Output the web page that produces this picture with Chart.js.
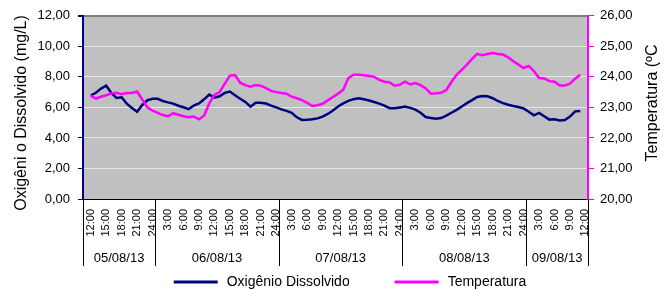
<!DOCTYPE html>
<html>
<head>
<meta charset="utf-8">
<script src="https://cdn.jsdelivr.net/npm/chart.js@4.4.0/dist/chart.umd.min.js"></script>
<style>
  html, body { margin: 0; padding: 0; background: #fff; }
  #wrap { width: 672px; height: 291px; }
</style>
</head>
<body>
<div id="wrap"><canvas id="chart"></canvas></div>
<script>
// hourly readings, 05/08/13 12:00 onwards
const oxygen = [6.78,6.96,7.23,7.42,6.95,6.62,6.66,6.24,5.96,5.72,
  6.16,6.47,6.57,6.56,6.42,6.33,6.25,6.11,6.01,5.89,
  6.12,6.26,6.53,6.84,6.64,6.73,6.95,7.04,6.79,6.57,
  6.36,6.05,6.30,6.31,6.25,6.12,6.00,5.87,5.77,5.64,
  5.35,5.18,5.19,5.23,5.28,5.40,5.57,5.80,6.06,6.26,
  6.43,6.54,6.60,6.53,6.45,6.35,6.25,6.12,5.95,5.94,
  6.00,6.06,5.97,5.85,5.65,5.37,5.31,5.25,5.30,5.46,
  5.65,5.84,6.06,6.28,6.48,6.68,6.75,6.73,6.60,6.42,
  6.28,6.17,6.09,6.03,5.93,5.72,5.48,5.64,5.42,5.20,
  5.22,5.15,5.17,5.40,5.74,5.76];
const temperature = [23.38,23.29,23.35,23.40,23.46,23.48,23.43,23.47,23.47,23.52,
  23.26,23.00,22.89,22.82,22.75,22.71,22.81,22.76,22.71,22.68,
  22.70,22.61,22.73,23.13,23.41,23.50,23.77,24.04,24.06,23.81,
  23.73,23.68,23.73,23.71,23.63,23.54,23.50,23.47,23.45,23.35,
  23.30,23.24,23.15,23.05,23.07,23.12,23.23,23.34,23.45,23.58,
  23.96,24.07,24.07,24.05,24.03,24.00,23.90,23.84,23.82,23.71,
  23.74,23.84,23.75,23.80,23.73,23.62,23.45,23.46,23.48,23.57,
  23.83,24.07,24.23,24.40,24.59,24.75,24.71,24.75,24.78,24.75,
  24.73,24.64,24.51,24.40,24.29,24.36,24.19,23.96,23.95,23.86,
  23.84,23.72,23.72,23.78,23.94,24.07];
const hours = oxygen.map((v, i) => i);

const tickHours = [0,3,6,9,12,15,18,21,24,27,30,33,36,39,42,45,48,51,54,57,60,63,66,69,72,75,78,81,84,87,90,93,96];
const tickLabels = ['12:00','15:00','18:00','21:00','24:00','3:00','6:00','9:00',
  '12:00','15:00','18:00','21:00','24:00','3:00','6:00','9:00',
  '12:00','15:00','18:00','21:00','24:00','3:00','6:00','9:00',
  '12:00','15:00','18:00','21:00','24:00','3:00','6:00','9:00','12:00'];
const days = ['05/08/13','06/08/13','07/08/13','08/08/13','09/08/13'];
const dayBounds = [-1.5, 12.5, 36.5, 60.5, 84.5, 96.5];

const FONT = "'Liberation Sans', Arial, sans-serif";
const comma = v => Number(v).toFixed(2).replace('.', ',');

const extras = {
  id: 'extras',
  beforeDraw(chart) {
    const { ctx, chartArea: a } = chart;
    ctx.save();
    ctx.fillStyle = '#C0C0C0';
    ctx.fillRect(a.left, a.top, a.right - a.left, a.bottom - a.top);
    ctx.restore();
  },
  afterDraw(chart) {
    const { ctx, chartArea: a } = chart;
    const xs = chart.scales.x;
    ctx.save();
    // date groups under the hour labels
    ctx.strokeStyle = '#000';
    ctx.lineWidth = 1;
    dayBounds.forEach(b => {
      const px = Math.round(xs.getPixelForValue(b)) + 0.5;
      ctx.beginPath();
      ctx.moveTo(px, a.bottom);
      ctx.lineTo(px, 266);
      ctx.stroke();
    });
    ctx.fillStyle = '#000';
    ctx.font = '13px ' + FONT;
    ctx.textAlign = 'center';
    ctx.textBaseline = 'middle';
    days.forEach((d, i) => {
      const cx = (xs.getPixelForValue(dayBounds[i]) + xs.getPixelForValue(dayBounds[i + 1])) / 2;
      ctx.fillText(d, cx, 258);
    });

    // axis titles, both read bottom-to-top
    ctx.font = '16px ' + FONT;
    ctx.save();
    ctx.translate(22, 113);
    ctx.rotate(-Math.PI / 2);
    ctx.fillText('Oxigêni o Dissolvido (mg/L)', 0, 0);
    ctx.restore();
    ctx.save();
    ctx.translate(653, 103);
    ctx.rotate(-Math.PI / 2);
    ctx.fillText('Temperatura (ºC', 0, 0);
    ctx.restore();

    // legend
    ctx.font = '14px ' + FONT;
    ctx.textAlign = 'left';
    const items = chart.data.datasets;
    const lineLen = 44, gap = 9, between = 45;
    const widths = items.map(d => lineLen + gap + ctx.measureText(d.label).width);
    const total = widths.reduce((s, w) => s + w, 0) + between * (items.length - 1);
    let x = 350 - total / 2;
    const y = 282;
    items.forEach((d, i) => {
      ctx.strokeStyle = d.borderColor;
      ctx.lineWidth = 3;
      ctx.beginPath();
      ctx.moveTo(x, y);
      ctx.lineTo(x + lineLen, y);
      ctx.stroke();
      ctx.fillStyle = '#000';
      ctx.fillText(d.label, x + lineLen + gap, y);
      x += widths[i] + between;
    });
    ctx.restore();
  }
};

new Chart(document.getElementById('chart'), {
  type: 'line',
  data: {
    datasets: [
      {
        label: 'Oxigênio Dissolvido',
        data: hours.map((h, i) => ({ x: h, y: oxygen[i] })),
        borderColor: '#000080',
        borderWidth: 2.5,
        pointRadius: 0,
        yAxisID: 'y',
        order: 2
      },
      {
        label: 'Temperatura',
        data: hours.map((h, i) => ({ x: h, y: temperature[i] })),
        borderColor: '#FF00FF',
        borderWidth: 2.5,
        pointRadius: 0,
        yAxisID: 'y2',
        order: 1
      }
    ]
  },
  options: {
    responsive: true,
    maintainAspectRatio: false,
    animation: false,
    layout: { padding: { top: 15, left: 0, right: 0, bottom: 0 } },
    plugins: {
      legend: { display: false },
      tooltip: { enabled: false }
    },
    scales: {
      x: {
        type: 'linear',
        min: -1.5,
        max: 96.5,
        afterBuildTicks: s => { s.ticks = tickHours.map(v => ({ value: v })); },
        afterFit: s => { s.height = 92; },
        grid: { display: false },
        border: { color: '#000', width: 1 },
        ticks: {
          autoSkip: false,
          minRotation: 90,
          maxRotation: 90,
          padding: 2,
          color: '#000',
          font: { family: FONT, size: 11 },
          callback: v => tickLabels[tickHours.indexOf(v)]
        }
      },
      y: {
        position: 'left',
        min: 0,
        max: 12,
        afterFit: s => { s.width = 83; },
        border: { color: '#000080', width: 2 },
        grid: {
          color: c => c.tick.value === 12 ? '#808080' : (c.tick.value === 0 ? 'rgba(0,0,0,0)' : '#E6E6E6'),
          lineWidth: c => c.tick.value === 12 ? 2 : 1,
          tickColor: '#000080',
          tickLength: 5
        },
        ticks: {
          stepSize: 2,
          padding: 8,
          color: '#000',
          font: { family: FONT, size: 13 },
          callback: v => comma(v)
        }
      },
      y2: {
        position: 'right',
        min: 20,
        max: 26,
        afterFit: s => { s.width = 84; },
        border: { color: '#FF00FF', width: 2 },
        grid: {
          drawOnChartArea: false,
          tickColor: '#FF00FF',
          tickLength: 6
        },
        ticks: {
          stepSize: 1,
          padding: 6,
          color: '#000',
          font: { family: FONT, size: 13 },
          callback: v => comma(v)
        }
      }
    }
  },
  plugins: [extras]
});
</script>
</body>
</html>
